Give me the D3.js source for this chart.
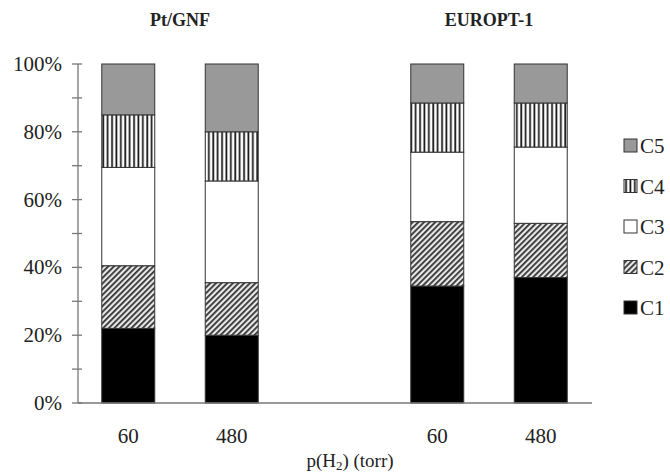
<!DOCTYPE html>
<html>
<head>
<meta charset="utf-8">
<script src="https://cdn.jsdelivr.net/npm/d3@7"></script>
<style>
  body { margin: 0; background: #fff; }
  svg { font-family: "Liberation Serif", "Times New Roman", serif; }
</style>
</head>
<body>
<svg id="chart" width="670" height="475"></svg>
<script>
// catalysts, pressures and carbon-number fractions (%)
const groups = ["Pt/GNF", "EUROPT-1"];
const pressures = ["60", "480"];
const series = ["C1", "C2", "C3", "C4", "C5"];
const c1 = [22, 20, 34.5, 37];
const c2 = [18.5, 15.5, 19, 16];
const c3 = [29, 30, 20.5, 22.5];
const c4 = [15.5, 14.5, 14.5, 13];
const c5 = [15, 20, 11.5, 11.5];
const yTicks = [0, 20, 40, 60, 80, 100];

const svg = d3.select("#chart");
const defs = svg.append("defs");

// vertical stripes for C4
const vs = defs.append("pattern")
    .attr("id", "vstripe")
    .attr("patternUnits", "userSpaceOnUse")
    .attr("width", 4.4).attr("height", 10);
vs.append("rect").attr("width", 4.4).attr("height", 10).attr("fill", "#fff");
vs.append("rect").attr("x", 1.2).attr("width", 1.7).attr("height", 10).attr("fill", "#111");

// diagonal hatch for C2
const dh = defs.append("pattern")
    .attr("id", "dhatch")
    .attr("patternUnits", "userSpaceOnUse")
    .attr("width", 4).attr("height", 4)
    .attr("patternTransform", "rotate(45)");
dh.append("rect").attr("width", 4).attr("height", 4).attr("fill", "#e8e8e8");
dh.append("rect").attr("width", 1.8).attr("height", 4).attr("fill", "#333");

const fills = {
  C1: "#000",
  C2: "url(#dhatch)",
  C3: "#fff",
  C4: "url(#vstripe)",
  C5: "#999"
};

// table rows = bars
const rows = [];
groups.forEach((g, gi) => {
  pressures.forEach((p, pi) => {
    const i = gi * pressures.length + pi;
    rows.push({group: g, p: p, C1: c1[i], C2: c2[i], C3: c3[i], C4: c4[i], C5: c5[i]});
  });
});

const stacked = d3.stack().keys(series)(rows);

const y = d3.scaleLinear().domain([0, 100]).range([403, 64]);

const x0 = d3.scaleBand()
    .domain(groups)
    .range([25.5, 643.5])
    .padding(0);

const x1 = d3.scaleBand()
    .domain(pressures)
    .range([0, x0.bandwidth()])
    .paddingInner(0.488)
    .paddingOuter(0.737);

// bars
svg.append("g")
  .selectAll("g")
  .data(stacked)
  .join("g")
    .attr("fill", d => fills[d.key])
  .selectAll("rect")
  .data(d => d)
  .join("rect")
    .attr("x", d => x0(d.data.group) + x1(d.data.p))
    .attr("y", d => y(d[1]))
    .attr("width", x1.bandwidth())
    .attr("height", d => y(d[0]) - y(d[1]))
    .attr("stroke", "#333")
    .attr("stroke-width", 1);

// y axis
const axisColor = "#777";
const yAxis = svg.append("g").attr("transform", "translate(78,0)");
yAxis.append("line")
    .attr("y1", y(0)).attr("y2", y(100))
    .attr("stroke", axisColor).attr("stroke-width", 1.3);
yAxis.selectAll(".tick")
  .data(d3.range(0, 101, 10))
  .join("line")
    .attr("x1", -6).attr("x2", 4)
    .attr("y1", d => y(d)).attr("y2", d => y(d))
    .attr("stroke", axisColor).attr("stroke-width", 1.3);
yAxis.selectAll("text")
  .data(yTicks)
  .join("text")
    .attr("x", -16)
    .attr("y", d => y(d) + 7)
    .attr("text-anchor", "end")
    .attr("font-size", 21)
    .attr("fill", "#222")
    .text(d => d + "%");

// x axis line
svg.append("line")
    .attr("x1", 78).attr("x2", 592)
    .attr("y1", y(0)).attr("y2", y(0))
    .attr("stroke", axisColor).attr("stroke-width", 1.3);

// pressure labels
svg.append("g")
  .selectAll("text")
  .data(rows)
  .join("text")
    .attr("x", d => x0(d.group) + x1(d.p) + x1.bandwidth() / 2)
    .attr("y", 443)
    .attr("text-anchor", "middle")
    .attr("font-size", 21)
    .attr("fill", "#222")
    .text(d => d.p);

// group titles
svg.append("g")
  .selectAll("text")
  .data(groups)
  .join("text")
    .attr("x", d => x0(d) + x0.bandwidth() / 2)
    .attr("y", 26)
    .attr("text-anchor", "middle")
    .attr("font-size", 18)
    .attr("font-weight", "bold")
    .attr("fill", "#222")
    .text(d => d);

// axis title
const xt = svg.append("text")
    .attr("x", 350)
    .attr("y", 467)
    .attr("text-anchor", "middle")
    .attr("font-size", 19)
    .attr("fill", "#222");
xt.append("tspan").text("p(H");
xt.append("tspan").attr("font-size", 13).attr("dy", 3).text("2");
xt.append("tspan").attr("dy", -3).text(") (torr)");

// legend, C5 on top
const legend = svg.append("g")
  .selectAll("g")
  .data(series.slice().reverse())
  .join("g")
    .attr("transform", (d, i) => `translate(624,${146 + i * 40.5})`);
legend.append("rect")
    .attr("x", 0).attr("y", -7)
    .attr("width", 13).attr("height", 13)
    .attr("fill", d => fills[d])
    .attr("stroke", "#333")
    .attr("stroke-width", 1);
legend.append("text")
    .attr("x", 16)
    .attr("y", 7)
    .attr("font-size", 21)
    .attr("fill", "#222")
    .text(d => d);
</script>
</body>
</html>
